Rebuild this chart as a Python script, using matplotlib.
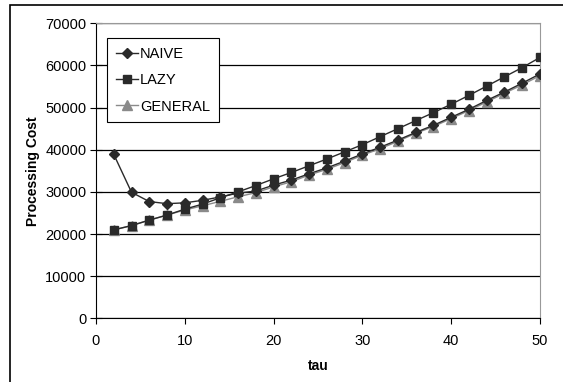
import matplotlib.pyplot as plt
from matplotlib.patches import Rectangle

plt.rcParams['font.family'] = ['Liberation Sans', 'DejaVu Sans']

tau = [2, 4, 6, 8, 10, 12, 14, 16, 18, 20, 22, 24, 26, 28, 30,
       32, 34, 36, 38, 40, 42, 44, 46, 48, 50]
naive = [38900, 29900, 27700, 27200, 27400, 28000, 28800, 29700, 30200, 31600,
         32800, 34300, 35700, 37300, 39000, 40600, 42300, 44100, 45800, 47700,
         49600, 51700, 53700, 55800, 58000]
lazy = [21000, 22000, 23300, 24500, 25900, 27100, 28600, 30000, 31500, 33100,
        34600, 36200, 37800, 39500, 41200, 43100, 45000, 46900, 48800, 50800,
        52900, 55100, 57300, 59500, 61900]
general = [20950, 22000, 23300, 24500, 25700, 26700, 27750, 28850, 29800, 31200,
           32400, 34000, 35350, 36950, 38700, 40250, 42000, 43900, 45500, 47400,
           49300, 51350, 53400, 55400, 57600]

fig = plt.figure(figsize=(5.63, 3.82), dpi=100)
ax = fig.add_axes([96/563, 1 - 318.3/382, 444/563, 295/382])

# outer chart frame (runs off the right and bottom edge)
fig.patches.append(Rectangle((10/563, -0.05), 1.0, 1 - 5/382 + 0.05,
                             transform=fig.transFigure, fill=False,
                             edgecolor='black', linewidth=1.2))

ax.plot(tau, general, color='#8a8a8a', marker='^', markersize=6.5, linewidth=1,
        markeredgecolor='#8a8a8a', label='GENERAL', zorder=3)
ax.plot(tau, naive, color='#2a2a2a', marker='D', markersize=5, linewidth=1,
        label='NAIVE', zorder=4)
ax.plot(tau, lazy, color='#2a2a2a', marker='s', markersize=6, linewidth=1,
        label='LAZY', zorder=5)

ax.set_xlim(0, 50)
ax.set_ylim(0, 70000)
ax.set_xticks([0, 10, 20, 30, 40, 50])
ax.set_yticks(range(0, 70001, 10000))
ax.yaxis.grid(True, color='black', linewidth=0.9)
ax.set_axisbelow(True)

for s in ['top', 'right']:
    ax.spines[s].set_color('#999999')
ax.spines['left'].set_color('black')
ax.spines['bottom'].set_color('black')
ax.tick_params(axis='y', direction='inout', length=8, labelsize=10.5, pad=3)
ax.tick_params(axis='x', direction='out', length=4, labelsize=10.5, pad=7)

ax.set_xlabel('tau', fontsize=10, fontweight='bold', labelpad=8)
ax.set_ylabel('Processing Cost', fontsize=10, fontweight='bold', labelpad=4)

h, l = ax.get_legend_handles_labels()
order = [1, 2, 0]
leg = ax.legend([h[i] for i in order], [l[i] for i in order],
                loc='upper left', bbox_to_anchor=(0.025, 0.95), fontsize=10.5,
                fancybox=False, framealpha=1, edgecolor='black',
                handlelength=1.5, handletextpad=0.15, borderpad=0.6,
                borderaxespad=0, labelspacing=0.85)
leg.get_frame().set_linewidth(0.8)

fig.savefig('out.png', dpi=100)
